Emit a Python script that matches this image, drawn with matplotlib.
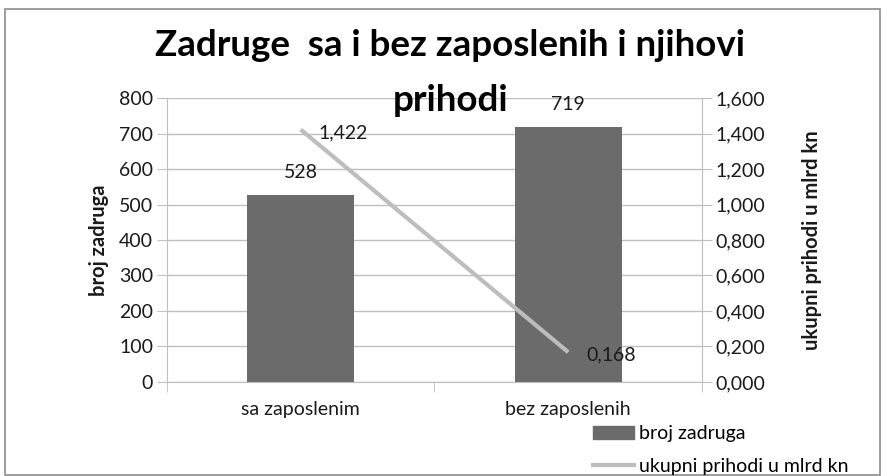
import matplotlib.pyplot as plt
import numpy as np
from matplotlib.patches import Rectangle

categories = ["sa zaposlenim", "bez zaposlenih"]
broj_zadruga = [528, 719]
prihodi = [1.422, 0.168]
left_ticks = [0, 100, 200, 300, 400, 500, 600, 700, 800]
right_ticks = [0.0, 0.2, 0.4, 0.6, 0.8, 1.0, 1.2, 1.4, 1.6]

plt.rcParams['font.family'] = ['Lato', 'DejaVu Sans']
grid_col = '#bfbfbf'
bar_col = '#6b6b6b'
line_col = '#bdbdbd'
txt_col = '#1a1a1a'
fs = 14

def fmt(v):
    return f"{v:.3f}".replace('.', ',')

fig = plt.figure(figsize=(8.86, 4.76), dpi=100)
ax = fig.add_axes([0.1885, 0.1975, 0.6038, 0.5966])
x = np.arange(len(categories))

ax.bar(x, broj_zadruga, width=0.4, color=bar_col, zorder=3)
ax.set_xlim(-0.5, 1.5)
ax.set_ylim(0, 800)
ax.set_yticks(left_ticks)
ax.yaxis.grid(True, color=grid_col, lw=1, zorder=0)
ax.tick_params(axis='y', length=7, color=grid_col, labelsize=fs, labelcolor=txt_col, pad=3)
ax.set_xticks(x)
ax.set_xticklabels(categories)
ax.set_xticks([-0.5, 0.5, 1.5], minor=True)
ax.tick_params(axis='x', which='major', length=0, labelsize=fs, labelcolor=txt_col, pad=14)
ax.tick_params(axis='x', which='minor', length=7, color=grid_col)
for s in ['top', 'right']:
    ax.spines[s].set_visible(False)
for s in ['left', 'bottom']:
    ax.spines[s].set_color(grid_col)
ax.set_ylabel("broj zadruga", fontsize=14.5, fontweight='bold', color=txt_col, labelpad=7)

for xi, v in zip(x, broj_zadruga):
    ax.annotate(str(v), (xi, v), xytext=(0, 10), textcoords='offset points',
                ha='center', va='bottom', fontsize=fs, color=txt_col)

ax2 = ax.twinx()
ax2.plot(x, prihodi, color=line_col, lw=3, solid_capstyle='butt', zorder=4)
ax2.set_ylim(0, 1.6)
ax2.set_yticks(right_ticks)
ax2.set_yticklabels([fmt(v) for v in right_ticks])
ax2.tick_params(axis='y', length=7, color=grid_col, labelsize=fs, labelcolor=txt_col, pad=3)
for s in ['top', 'left', 'bottom']:
    ax2.spines[s].set_visible(False)
ax2.spines['right'].set_color(grid_col)
ax2.set_ylabel("ukupni prihodi u mlrd kn", fontsize=14.5, fontweight='bold', color=txt_col, labelpad=26)

for xi, v in zip(x, prihodi):
    ax2.annotate(fmt(v), (xi, v), xytext=(13, -2), textcoords='offset points',
                 ha='left', va='center', fontsize=fs, color=txt_col)

fig.text(0.508, 0.905, "Zadruge  sa i bez zaposlenih i njihovi", ha='center', va='center',
         fontsize=26.5, fontweight='bold', color='black')
fig.text(0.508, 0.788, "prihodi", ha='center', va='center',
         fontsize=26.5, fontweight='bold', color='black')

h1 = Rectangle((0, 0), 1, 1, color=bar_col)
h2 = plt.Line2D([0], [0], color=line_col, lw=3)
fig.legend([h1, h2], ["broj zadruga", "ukupni prihodi u mlrd kn"], loc='lower left',
           bbox_to_anchor=(0.654, -0.026), frameon=False, fontsize=fs, handlelength=2.1,
           handleheight=0.7, handletextpad=0.25, labelspacing=0.8, borderpad=0.2)

fig.patches.append(Rectangle((0.006, 0.002), 0.987, 0.98, transform=fig.transFigure,
                             fill=False, edgecolor='#8c8c8c', lw=1.2))

fig.savefig("out.png", dpi=100)
